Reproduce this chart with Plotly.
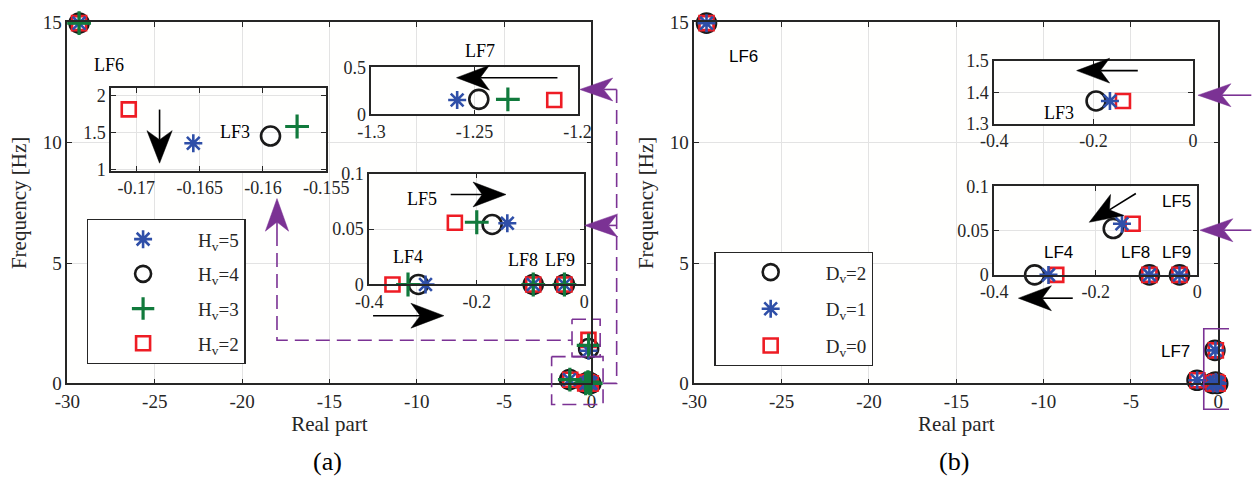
import math
import plotly.graph_objects as go

W, H = 1252, 493
SERIF = "Liberation Serif"
SANS = "Liberation Sans"
AX = "#262626"
GRID = "#e3e3e3"
PURPLE = "#7B3294"

# ---------------- data ----------------
# mode order in every series
modes = ["LF6", "LF3", "LF7", "LF5", "LF4", "LF8", "LF9"]

# (a) virtual inertia sweep
hv5_re = [-29.33, -0.1655, -1.2584, -0.1432, -0.2953, -0.095, -0.037]
hv5_im = [14.97, 1.354, 0.153, 0.0553, 0.0, 0.0, 0.0]
hv4_re = [-29.33, -0.1594, -1.2479, -0.1714, -0.3085, -0.095, -0.037]
hv4_im = [14.97, 1.452, 0.160, 0.0542, 0.0, 0.0, 0.0]
hv3_re = [-29.33, -0.1573, -1.2338, -0.2000, -0.3278, -0.095, -0.037]
hv3_im = [14.97, 1.580, 0.160, 0.0562, 0.0, 0.0, 0.0]
hv2_re = [-29.33, -0.1706, -1.2113, -0.2407, -0.3567, -0.095, -0.037]
hv2_im = [14.97, 1.810, 0.153, 0.0557, 0.0, 0.0, 0.0]

# (b) virtual damping sweep
dv2_re = [-29.30, -0.1951, -1.22, -0.1655, -0.3203, -0.0943, -0.035]
dv2_im = [14.97, 1.373, 0.13, 0.0524, 0.0, 0.0, 0.0]
dv1_re = [-29.30, -0.1672, -1.21, -0.1483, -0.2930, -0.0943, -0.035]
dv1_im = [14.97, 1.373, 0.13, 0.0578, 0.0, 0.0, 0.0]
dv0_re = [-29.30, -0.1410, -1.20, -0.1273, -0.2777, -0.0943, -0.035]
dv0_im = [14.97, 1.373, 0.13, 0.0578, 0.0, 0.0, 0.0]

# tick labels
main_x_ticks = [-30, -25, -20, -15, -10, -5, 0]
main_x_text = ["-30", "-25", "-20", "-15", "-10", "-5", "0"]
main_y_ticks = [0, 5, 10, 15]
main_y_text = ["0", "5", "10", "15"]
lf3a_x_ticks = [-0.17, -0.165, -0.16, -0.155]
lf3a_x_text = ["-0.17", "-0.165", "-0.16", "-0.155"]
lf3a_y_ticks = [1, 1.5, 2]
lf3a_y_text = ["1", "1.5", "2"]
lf7_x_ticks = [-1.3, -1.25, -1.2]
lf7_x_text = ["-1.3", "-1.25", "-1.2"]
lf7_y_ticks = [0, 0.5]
lf7_y_text = ["0", "0.5"]
small_x_ticks = [-0.4, -0.2, 0]
small_x_text = ["-0.4", "-0.2", "0"]
small_y_ticks = [0, 0.05, 0.1]
small_y_text = ["0", "0.05", "0.1"]
lf3b_y_ticks = [1.3, 1.4, 1.5]
lf3b_y_text = ["1.3", "1.4", "1.5"]

# ---------------- styles ----------------
STAR = dict(symbol="asterisk-open", color="#2F4FA8", size=15, line=dict(color="#2F4FA8", width=2.6))
CIRC = dict(symbol="circle-open", color="#1A1A1A", size=19, line=dict(color="#1A1A1A", width=2.6))
PLUS = dict(symbol="cross-thin-open", color="#117A3C", size=17, line=dict(color="#117A3C", width=3.2))
SQR = dict(symbol="square-open", color="#EE1C24", size=14, line=dict(color="#EE1C24", width=2.6))


def px(x):
    return x / W


def py(y):
    return 1 - y / H


fig = go.Figure()

# inset index groups
idx_lf3 = [1]
idx_lf7 = [2]
idx_low = [3, 4, 5, 6]

series_a = [  # drawing order: circle, square, star, plus
    ("H<sub>v</sub>=4", hv4_re, hv4_im, CIRC, 2),
    ("H<sub>v</sub>=2", hv2_re, hv2_im, SQR, 4),
    ("H<sub>v</sub>=5", hv5_re, hv5_im, STAR, 1),
    ("H<sub>v</sub>=3", hv3_re, hv3_im, PLUS, 3),
]
series_b = [
    ("D<sub>v</sub>=2", dv2_re, dv2_im, CIRC, 1),
    ("D<sub>v</sub>=0", dv0_re, dv0_im, SQR, 3),
    ("D<sub>v</sub>=1", dv1_re, dv1_im, STAR, 2),
]


def add_series(name, re, im, mk, rank, xa, ya, idx, legend, show):
    xs = [re[i] for i in idx]
    ys = [im[i] for i in idx]
    fig.add_trace(go.Scatter(
        x=xs, y=ys, mode="markers", name=name, marker=mk,
        xaxis=xa, yaxis=ya, cliponaxis=False, showlegend=show,
        legend=legend, legendrank=rank, legendgroup=name + legend,
        hoverinfo="skip"))


all_idx = list(range(len(modes)))
for name, re, im, mk, rank in series_a:
    add_series(name, re, im, mk, rank, "x", "y", all_idx, "legend", True)
for name, re, im, mk, rank in series_b:
    add_series(name, re, im, mk, rank, "x2", "y2", all_idx, "legend2", True)
for name, re, im, mk, rank in series_a:
    add_series(name, re, im, mk, rank, "x3", "y3", idx_lf3, "legend", False)
    add_series(name, re, im, mk, rank, "x4", "y4", idx_lf7, "legend", False)
    add_series(name, re, im, mk, rank, "x5", "y5", idx_low, "legend", False)
for name, re, im, mk, rank in series_b:
    add_series(name, re, im, mk, rank, "x6", "y6", idx_lf3, "legend2", False)
    add_series(name, re, im, mk, rank, "x7", "y7", idx_low, "legend2", False)


def axis(domain, rng, tickvals, ticktext, anchor, size, title=None, standoff=6):
    d = dict(domain=domain, range=rng, tickvals=tickvals, ticktext=ticktext,
             anchor=anchor, showline=True, linecolor=AX, linewidth=1.5,
             mirror="ticks", ticks="inside", ticklen=5, tickcolor=AX, tickwidth=1.2,
             showgrid=True, gridcolor=GRID, gridwidth=1, zeroline=False,
             tickfont=dict(family=SERIF, size=size, color=AX), fixedrange=True)
    if title:
        d["title"] = dict(text=title, font=dict(family=SERIF, size=21, color=AX), standoff=standoff)
    return d


layout = dict(
    width=W, height=H, margin=dict(l=0, r=0, t=0, b=0),
    paper_bgcolor="white", plot_bgcolor="#fffffe",
    xaxis=axis([px(55), px(595)], [-30, 0], main_x_ticks, main_x_text, "y", 19, "Real part", 0),
    yaxis=axis([py(390), py(13)], [0, 15], main_y_ticks, main_y_text, "x", 19, "Frequency [Hz]", 10),
    xaxis2=axis([px(701), px(1241)], [-30, 0], main_x_ticks, main_x_text, "y2", 19, "Real part", 0),
    yaxis2=axis([py(390), py(13)], [0, 15], main_y_ticks, main_y_text, "x2", 19, "Frequency [Hz]", 10),
    xaxis3=axis([px(100), px(321.7)], [-0.172, -0.155], lf3a_x_ticks, lf3a_x_text, "y3", 18),
    yaxis3=axis([py(168.3), py(81.3)], [0.98, 2.1], lf3a_y_ticks, lf3a_y_text, "x3", 18),
    xaxis4=axis([px(368.3), px(580.7)], [-1.3, -1.2], lf7_x_ticks, lf7_x_text, "y4", 18),
    yaxis4=axis([py(109), py(60)], [0, 0.5], lf7_y_ticks, lf7_y_text, "x4", 18),
    xaxis5=axis([px(366), px(587.7)], [-0.4, 0], small_x_ticks, small_x_text, "y5", 18),
    yaxis5=axis([py(286.7), py(171)], [0, 0.1], small_y_ticks, small_y_text, "x5", 18),
    xaxis6=axis([px(1010), px(1215)], [-0.4, 0], small_x_ticks, small_x_text, "y6", 18),
    yaxis6=axis([py(119), py(53.3)], [1.3, 1.5], lf3b_y_ticks, lf3b_y_text, "x6", 18),
    xaxis7=axis([px(1010), px(1219.3)], [-0.4, 0], small_x_ticks, small_x_text, "y7", 18),
    yaxis7=axis([py(276.7), py(184.3)], [0, 0.1], small_y_ticks, small_y_text, "x7", 18),
    legend=dict(x=px(75), y=py(218.3), xanchor="left", yanchor="top",
                bgcolor="white", bordercolor=AX, borderwidth=1.3,
                font=dict(family=SERIF, size=19, color=AX), itemwidth=100,
                tracegroupgap=7, traceorder="grouped"),
    legend2=dict(x=px(721.7), y=py(252.7), xanchor="left", yanchor="top",
                 bgcolor="white", bordercolor=AX, borderwidth=1.3,
                 font=dict(family=SERIF, size=19, color=AX), itemwidth=100,
                 tracegroupgap=9, traceorder="grouped"),
    showlegend=True,
)
fig.update_layout(**layout)

# ---------------- arrows and guide lines ----------------
shapes = []


def arrow(x0, y0, x1, y1, color, hl=34, hw=26, lw=1.6):
    dx, dy = x1 - x0, y1 - y0
    L = math.hypot(dx, dy)
    ux, uy = dx / L, dy / L
    nx, ny = -uy, ux
    bx, by = x1 - ux * hl, y1 - uy * hl
    cx, cy = x1 - ux * hl * 0.72, y1 - uy * hl * 0.72
    pts = [(x1, y1), (bx + nx * hw / 2, by + ny * hw / 2), (cx, cy),
           (bx - nx * hw / 2, by - ny * hw / 2)]
    path = "M " + " L ".join(f"{px(a):.5f},{py(b):.5f}" for a, b in pts) + " Z"
    shapes.append(dict(type="line", xref="paper", yref="paper", x0=px(x0), y0=py(y0),
                       x1=px(cx), y1=py(cy), line=dict(color=color, width=lw)))
    shapes.append(dict(type="path", xref="paper", yref="paper", path=path,
                       fillcolor=color, line=dict(color=color, width=0.5)))


def polyline(pts, color=PURPLE, dash="14px,7px", lw=1.6):
    path = "M " + " L ".join(f"{px(a):.5f},{py(b):.5f}" for a, b in pts)
    shapes.append(dict(type="path", xref="paper", yref="paper", path=path,
                       fillcolor="rgba(0,0,0,0)", line=dict(color=color, width=lw, dash=dash)))


# black trend arrows
arrow(150, 104, 150, 160, "black")
arrow(560, 70.7, 456, 70.7, "black")
arrow(450, 192.7, 507, 192.7, "black")
arrow(370, 319.3, 443, 319.3, "black")
arrow(1158, 63.3, 1095, 63.3, "black")
arrow(1156, 191.7, 1108, 221.7, "black")
arrow(1091, 301, 1035, 301, "black")

# purple zoom guides
polyline([(271, 232), (271, 345), (575, 345)])
polyline([(575, 323), (604, 323), (604, 362), (575, 362), (575, 323)])
polyline([(554, 362), (607, 362), (607, 412), (554, 412), (554, 362)])
polyline([(607, 390), (621, 390), (621, 83)])
polyline([(1252, 333), (1226, 333), (1226, 417), (1252, 417)], dash="solid")
arrow(621, 83, 583, 83, PURPLE, hl=34, hw=24)
arrow(621, 225, 588, 225, PURPLE, hl=34, hw=24)
arrow(271, 232, 271, 197, PURPLE, hl=34, hw=24)
arrow(1275, 89, 1220, 89, PURPLE, hl=34, hw=24)
arrow(1275, 230, 1222, 230, PURPLE, hl=34, hw=24)

fig.update_layout(shapes=shapes)

# ---------------- labels ----------------
labels = [
    ("LF6", 98, 57, SERIF), ("LF3", 228, 127, SERIF), ("LF7", 480, 43, SERIF),
    ("LF5", 420, 197, SERIF), ("LF4", 406, 258, SERIF), ("LF8", 525, 261, SERIF),
    ("LF9", 563, 261, SERIF),
    ("LF6", 752, 49, SANS), ("LF3", 1077, 108, SERIF), ("LF5", 1198, 200, SANS),
    ("LF4", 1076, 253, SANS), ("LF8", 1156, 253, SANS), ("LF9", 1198, 253, SANS),
    ("LF7", 1197, 357, SANS),
]
for t, x, y, fam in labels:
    fig.add_annotation(text=t, x=px(x), y=py(y), xref="paper", yref="paper",
                       showarrow=False, xanchor="center", yanchor="middle",
                       font=dict(family=fam, size=18 if fam == SERIF else 17, color="black"))

for t, x in (("(a)", 323), ("(b)", 969)):
    fig.add_annotation(text=t, x=px(x), y=py(472), xref="paper", yref="paper",
                       showarrow=False, xanchor="center", yanchor="middle",
                       font=dict(family=SERIF, size=26, color="black"))

fig.write_html("out.html")
